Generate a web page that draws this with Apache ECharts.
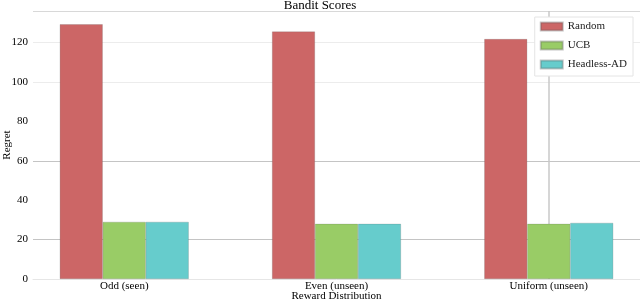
<!DOCTYPE html>
<html><head><meta charset="utf-8">
<script src="https://cdn.jsdelivr.net/npm/echarts@6/dist/echarts.min.js"></script>
<style>html,body{margin:0;padding:0;background:#fff}#c{width:640px;height:302px}</style>
</head><body><div id="c"></div>
<script>
const categories = ['Odd (seen)', 'Even (unseen)', 'Uniform (unseen)'];
const seriesNames = ['Random', 'UCB', 'Headless-AD'];
const randomVals = [129.3, 125.6, 121.8];
const ucbVals = [29, 28, 28];
const headlessVals = [29, 28, 28.5];
const yTicks = [0, 20, 40, 60, 80, 100, 120];

const colors = ['#cc6666', '#99cc66', '#66cccc'];
const font = 'Liberation Serif';
const allVals = [randomVals, ucbVals, headlessVals];

const chart = echarts.init(document.getElementById('c'), null, {renderer: 'canvas'});
const series = seriesNames.map((name, s) => ({
  name, type: 'bar', barWidth: 43, barGap: '0%', z: 2,
  itemStyle: {color: colors[s], borderColor: 'rgba(90,90,90,0.35)', borderWidth: 0.6},
  data: allVals[s].map((v, i) => [i, v])
}));
series[1].markLine = {
  silent: true, symbol: 'none', z: 1, label: {show: false},
  lineStyle: {color: '#c8c8c8', width: 1.5, type: 'solid'},
  data: [{xAxis: 2}]
};
chart.setOption({
  animation: false,
  color: colors,
  title: {text: 'Bandit Scores', left: 'center', top: -6,
    textStyle: {fontFamily: font, fontSize: 13, fontWeight: 'normal', color: '#000'}},
  legend: {
    right: 7, top: 17, orient: 'vertical', icon: 'rect', itemWidth: 22, itemHeight: 8, itemGap: 8,
    backgroundColor: '#fff', borderColor: '#e4e4e4', borderWidth: 1, padding: [4, 6, 6, 5],
    textStyle: {fontFamily: font, fontSize: 11, color: '#222'},
    data: seriesNames
  },
  grid: {left: 33, right: 0, top: 11, bottom: 23, containLabel: false, outerBoundsMode: 'none'},
  xAxis: {
    type: 'value', min: -0.43, max: 2.43,
    name: 'Reward Distribution', nameLocation: 'middle', nameGap: 12, nameMoveOverlap: false,
    nameTextStyle: {fontFamily: font, fontSize: 11, color: '#000', verticalAlign: 'top'},
    axisLine: {show: true, lineStyle: {color: '#e6e6e6'}},
    axisTick: {show: false},
    splitLine: {show: false},
    axisLabel: {customValues: [0, 1, 2], formatter: v => categories[Math.round(v)] || '',
      fontFamily: font, fontSize: 11, color: '#000', margin: 2}
  },
  yAxis: {
    type: 'value', min: 0, max: 136, interval: 20,
    name: 'Regret', nameLocation: 'middle', nameGap: 26, nameMoveOverlap: false,
    nameTextStyle: {fontFamily: font, fontSize: 11, color: '#000', verticalAlign: 'middle'},
    axisLine: {show: false}, axisTick: {show: false},
    axisLabel: {showMaxLabel: false, fontFamily: font, fontSize: 11, color: '#000', margin: 5,
      formatter: v => yTicks.includes(v) ? String(v) : ''},
    splitLine: {show: true, lineStyle: {width: 1.2,
      color: ['rgba(0,0,0,0)', '#c4c4c4', 'rgba(0,0,0,0)', '#c4c4c4', 'rgba(0,0,0,0)', '#ececec', '#ececec', '#d8d8d8']}}
  },
  series
});
</script></body></html>
